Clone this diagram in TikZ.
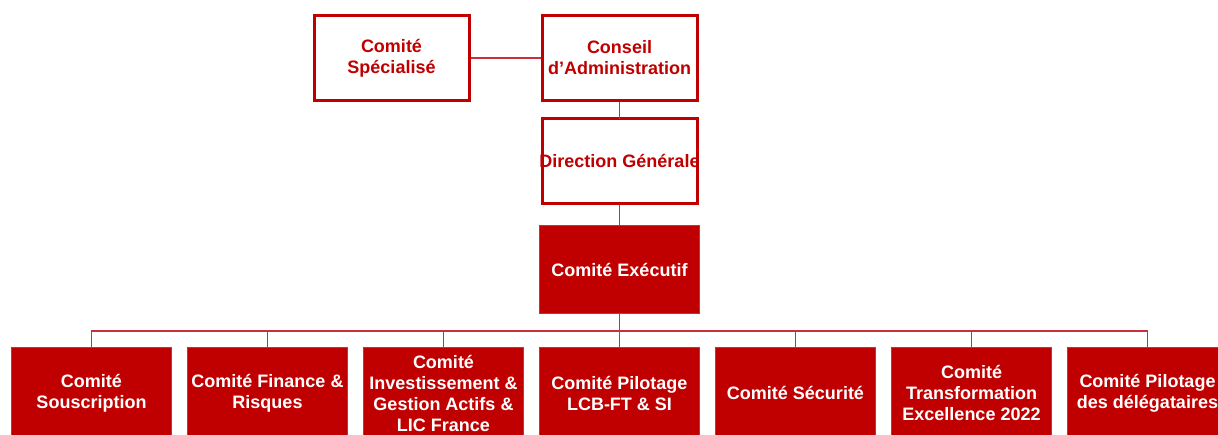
\documentclass[tikz,border=0pt]{standalone}
\usepackage{fontspec}
\setmainfont{Liberation Sans}
\usetikzlibrary{positioning}
\definecolor{rouge}{HTML}{C00000}
\definecolor{trait}{HTML}{C9303A}

\begin{document}
\begin{tikzpicture}[x=1pt,y=1pt,
	font=\fontsize{18}{21}\selectfont\bfseries,
	blanc/.style={rectangle,draw=rouge,line width=3pt,fill=white,text=rouge,minimum width=155pt,minimum height=85pt,align=center,inner sep=0pt},
	plein/.style={rectangle,draw=trait,line width=0.8pt,fill=rouge,text=white,minimum width=160pt,minimum height=88pt,align=center,inner sep=0pt},
	bas/.style={plein,minimum height=92pt},
	lien/.style={draw=trait,line width=1.7pt},
	edge from parent/.style={lien},
	edge from parent path={(\tikzparentnode.south) -- ++(0,-17) -| (\tikzchildnode.north)},
	level 1/.style={level distance=103pt},
	level 2/.style={level distance=108.5pt},
	level 3/.style={level distance=123.5pt,sibling distance=176pt}]
\useasboundingbox (0,0) rectangle (1218,-435);
\node [blanc] (ca) at (619.5,-58) {Conseil\\d'Administration}
	child{node [blanc] (dg) {\makebox[150pt]{Direction Générale}}
		child{node [plein] (ce) {Comité Exécutif}
			child{node [bas] (c1) {Comité\\Souscription}}
			child{node [bas] (c2) {Comité Finance \&\\Risques}}
			child{node [bas] (c3) {Comité\\Investissement \&\\Gestion Actifs \&\\LIC France}}
			child{node [bas] (c4) {Comité Pilotage\\LCB-FT \& SI}}
			child{node [bas] (c5) {Comité Sécurité}}
			child{node [bas] (c6) {Comité\\Transformation\\Excellence 2022}}
			child{node [bas] (c7) {Comité Pilotage\\des délégataires}}}};
\node [blanc,left=70pt of ca] (cs) {Comité\\Spécialisé};
\draw [lien] (cs) -- (ca);
\end{tikzpicture}
\end{document}
